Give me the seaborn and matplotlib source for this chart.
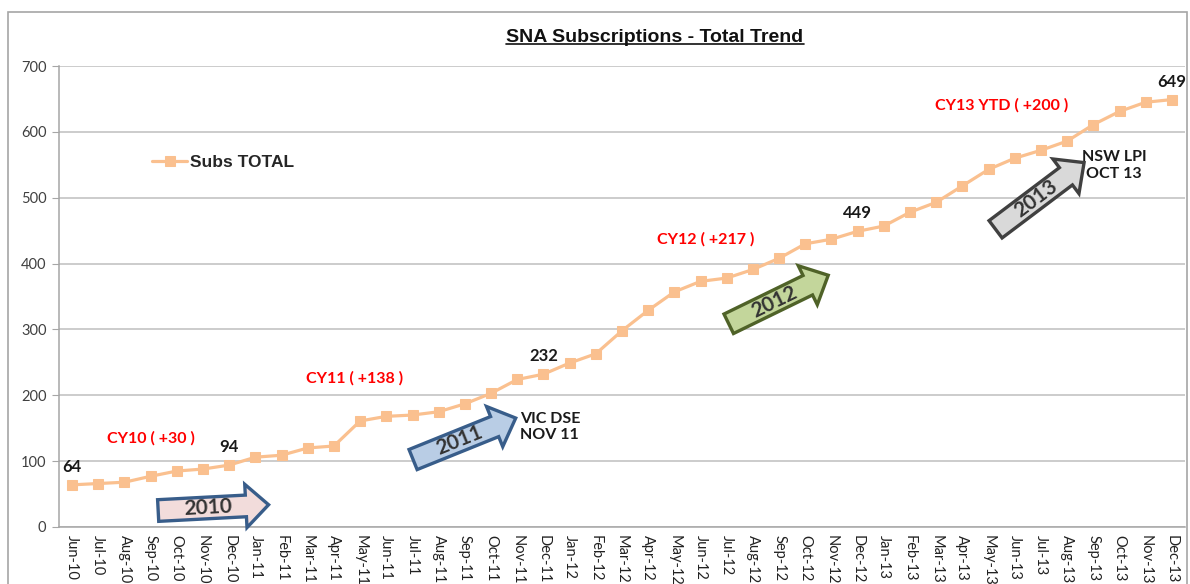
import numpy as np
import pandas as pd
import seaborn as sns
import matplotlib.pyplot as plt
from matplotlib.lines import Line2D
from matplotlib.patches import Rectangle
from matplotlib.path import Path

# data
months = ['Jun-10', 'Jul-10', 'Aug-10', 'Sep-10', 'Oct-10', 'Nov-10', 'Dec-10',
          'Jan-11', 'Feb-11', 'Mar-11', 'Apr-11', 'May-11', 'Jun-11', 'Jul-11',
          'Aug-11', 'Sep-11', 'Oct-11', 'Nov-11', 'Dec-11',
          'Jan-12', 'Feb-12', 'Mar-12', 'Apr-12', 'May-12', 'Jun-12', 'Jul-12',
          'Aug-12', 'Sep-12', 'Oct-12', 'Nov-12', 'Dec-12',
          'Jan-13', 'Feb-13', 'Mar-13', 'Apr-13', 'May-13', 'Jun-13', 'Jul-13',
          'Aug-13', 'Sep-13', 'Oct-13', 'Nov-13', 'Dec-13']
subs_total = [64, 66, 68, 77, 85, 88, 94,
              106, 109, 120, 123, 161, 168, 170,
              175, 187, 203, 224, 232,
              249, 263, 298, 329, 357, 373, 378,
              391, 408, 430, 437, 449,
              457, 478, 493, 518, 543, 560, 572,
              586, 611, 631, 645, 649]

# points that carry a value label, and the yearly notes
labelled = ['Jun-10', 'Dec-10', 'Dec-11', 'Dec-12', 'Dec-13']
year_notes = ['CY10 ( +30 )', 'CY11 ( +138 )', 'CY12 ( +217 )', 'CY13 YTD ( +200 )']
arrow_years = ['2010', '2011', '2012', '2013']

df = pd.DataFrame({'month': months, 'subs': subs_total})
df['idx'] = np.arange(len(df))

sns.set_style('white')
plt.rcParams['font.family'] = ['Lato', 'DejaVu Sans']


def block_arrow(x0, y0, width, height, mutation_size):
    # excel-like block arrow: flat tail, wide triangular head
    p = mutation_size * 0.04
    x0 = x0 - mutation_size * 1.25
    x1 = x0 + mutation_size * 1.25 + width + mutation_size * 0.65
    y0, y1 = y0 - p, y0 + height + p
    h = y1 - y0
    ym = (y0 + y1) / 2
    verts = [(x0, y0), (x1, y0), (x1, ym - h), (x1 + 1.05 * h, ym),
             (x1, ym + h), (x1, y1), (x0, y1), (x0, y0)]
    return Path(verts, closed=True)


fig = plt.figure(figsize=(11.9, 5.84), dpi=100)
ax = fig.add_axes([59 / 1190, 57 / 584, 1126 / 1190, 461 / 584])

line_col = '#FAC08F'
sns.lineplot(data=df, x='idx', y='subs', ax=ax, color=line_col, marker='s',
             markersize=6.5, markeredgecolor=line_col, linewidth=2.3,
             label='Subs TOTAL')

ax.set_xlim(-0.5, len(months) - 0.5)
ax.set_ylim(0, 700)
ax.set_yticks(np.arange(0, 701, 100))
ax.grid(axis='y', color='#BEBEBE', linewidth=1.1)
ax.set_xlabel('')
ax.set_ylabel('')

ax.set_xticks(df['idx'])
ax.set_xticklabels(months, rotation=270, fontsize=10.5, color='#222222')
ax.set_xticks(np.arange(-0.5, len(months)), minor=True)
ax.tick_params(axis='x', which='major', length=0, pad=6)
ax.tick_params(axis='x', which='minor', length=5, color='#A6A6A6', width=1)
ax.tick_params(axis='y', length=5, color='#A6A6A6', labelsize=10.5,
               labelcolor='#404040', pad=4)
ax.tick_params(axis='y', left=True)

for s in ['top', 'right']:
    ax.spines[s].set_visible(False)
for s in ['left', 'bottom']:
    ax.spines[s].set_color('#A6A6A6')
    ax.spines[s].set_linewidth(1.1)

leg = ax.legend(loc='center left', bbox_to_anchor=(0.083, 0.79), frameon=False,
                borderaxespad=0, borderpad=0, handlelength=2.0, handletextpad=0.15,
                prop={'family': 'Liberation Sans', 'weight': 'bold', 'size': 12.5})

# value labels
for m in labelled:
    i = months.index(m)
    ax.annotate(str(subs_total[i]), (i, subs_total[i]), xytext=(0, 13),
                textcoords='offset points', ha='center', va='center',
                fontsize=12, fontweight='bold', color='#1a1a1a')

# yearly growth notes
note_pos = [(3.0, 135), (10.8, 225), (24.2, 437), (35.5, 640)]
for txt, (x, y) in zip(year_notes, note_pos):
    ax.text(x, y, txt, ha='center', va='center', fontsize=11.5,
            fontweight='bold', color='#FF0000')

# events
ax.text(17.1, 152, 'VIC DSE\nNOV 11', ha='left', va='center', fontsize=11.5,
        fontweight='bold', color='#1a1a1a', linespacing=1.25)
ax.text(39.8, 549, 'NSW LPI\nOCT 13', ha='center', va='center', fontsize=11.5,
        fontweight='bold', color='#1a1a1a', linespacing=1.25)

# block arrows
arrow_pos = [(5.2, 29, 3), (14.8, 131, 22), (26.8, 342, 26), (36.8, 498, 37)]
arrow_fc = ['#F2DCDB', '#B9CDE5', '#C3D69B', '#D9D9D9']
arrow_ec = ['#385D8A', '#385D8A', '#4F6228', '#404040']
for yr, (x, y, rot), fc, ec in zip(arrow_years, arrow_pos, arrow_fc, arrow_ec):
    ax.text(x, y, yr, ha='center', va='center', rotation=rot,
            rotation_mode='anchor', fontsize=15, fontweight='bold', color='#333333',
            bbox=dict(boxstyle=block_arrow, fc=fc, ec=ec, lw=2.4))

title = fig.text(655 / 1190, 1 - 37 / 584, 'SNA Subscriptions - Total Trend',
                 ha='center', va='center', fontsize=14, fontweight='bold',
                 family='Liberation Sans', color='#111111')

# outer chart frame
fig.add_artist(Rectangle((8 / 1190, -0.05), 1179 / 1190, 1.05 - 12 / 584,
                         transform=fig.transFigure, fill=False,
                         ec='#A6A6A6', lw=1.2))

# underline the title
fig.canvas.draw()
bb = title.get_window_extent().transformed(fig.transFigure.inverted())
fig.add_artist(Line2D([bb.x0, bb.x1], [bb.y0 + 0.002, bb.y0 + 0.002],
                      transform=fig.transFigure, color='#111111', lw=1.2))

plt.savefig('out.png', dpi=100)
plt.close()
